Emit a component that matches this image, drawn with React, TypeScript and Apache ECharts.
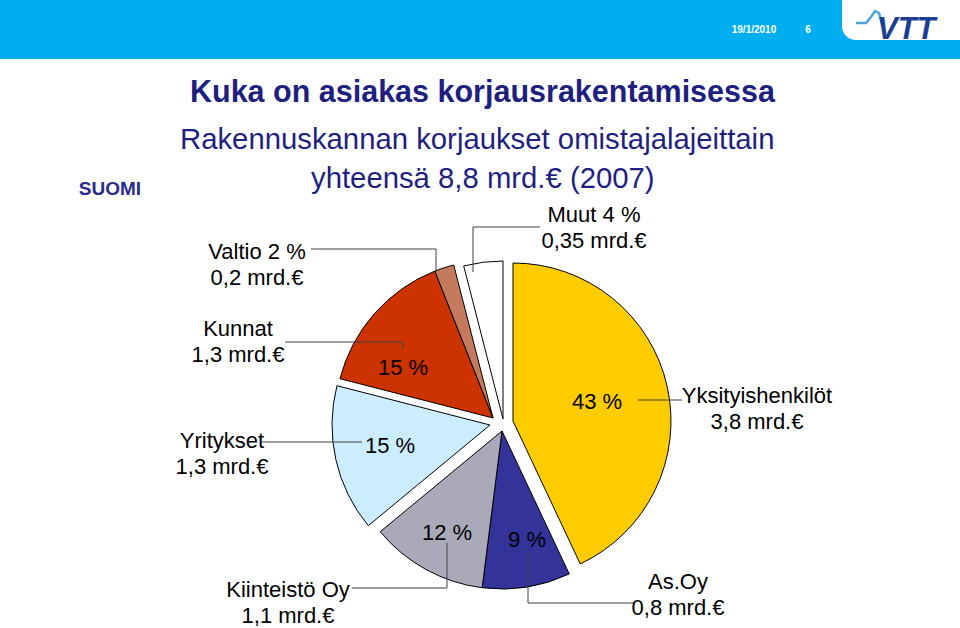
import React, { useEffect, useRef } from 'react';
import * as echarts from 'echarts';

// ---- Data ----
const categories = ['Yksityishenkilöt', 'As.Oy', 'Kiinteistö Oy', 'Yritykset', 'Kunnat', 'Valtio', 'Muut'];
const shares = [43, 9, 12, 15, 15, 2, 4];
const amounts = ['3,8', '0,8', '1,1', '1,3', '1,3', '0,2', '0,35'];
const shareInCallout = [false, false, false, false, false, true, true];

// ---- Styling / layout ----
const sliceColors = ['#FFCC00', '#333399', '#A9A9BA', '#CCECFF', '#CC3300', '#C47A5C', '#FFFFFF'];
const FONT = '"Liberation Sans", Arial, Helvetica, sans-serif';
const NAVY = '#1F1F80';

// exploded pie: slices sharing a group are drawn around the same (shifted) centre
const sliceGroup = [0, 1, 1, 2, 3, 3, 4];
const groupCenters = [[513, 421], [502, 431], [490, 425], [493, 418], [503, 419]];
const PIE_CENTER = [502, 420];
const PIE_RADIUS = 158;

const innerPos: (number[] | null)[] = [[597, 401], [527, 539], [447, 532], [390, 445], [403, 367], null, null];
const outerPos = [[757, 408], [678, 594], [288, 602], [222, 453], [238, 341], [257, 264], [594, 227]];
const leaderPts = [
  [[638, 400], [660, 400], [682, 400]],
  [[528, 552], [528, 603], [634, 603]],
  [[447, 543], [447, 588], [352, 588]],
  [[362, 442], [310, 442], [262, 442]],
  [[403, 349], [403, 342], [285, 342]],
  [[436, 272], [436, 249], [311, 249]],
  [[473, 272], [473, 227], [540, 227]],
];

export default function App() {
  const ref = useRef<HTMLDivElement>(null);

  useEffect(() => {
    if (!ref.current) return;
    const chart = echarts.init(ref.current, null, { renderer: 'svg' });

    const pieBase = {
      type: 'pie',
      radius: PIE_RADIUS,
      startAngle: 90,
      clockwise: true,
      avoidLabelOverlap: false,
      silent: true,
      emphasis: { disabled: true },
    };
    const ghost = { color: 'rgba(0,0,0,0)', borderWidth: 0 };
    const plainData = categories.map((name, i) => ({ name, value: shares[i] }));

    const sliceSeries = groupCenters.map((center, g) => ({
      ...pieBase,
      id: `slices-${g}`,
      center,
      label: { show: false },
      labelLine: { show: false },
      data: categories.map((name, i) => ({
        name,
        value: shares[i],
        itemStyle:
          sliceGroup[i] === g
            ? { color: sliceColors[i], borderColor: '#000000', borderWidth: 1 }
            : ghost,
      })),
      z: 2,
    }));

    chart.setOption({
      animation: false,
      backgroundColor: '#FFFFFF',
      graphic: [
        { type: 'rect', shape: { x: 0, y: 0, width: 960, height: 59 }, style: { fill: '#00AEEF' } },
        { type: 'rect', shape: { x: 842, y: 0, width: 118, height: 40, r: [0, 0, 0, 14] }, style: { fill: '#FFFFFF' } },
        {
          type: 'text',
          style: { text: '19/1/2010', x: 754, y: 29, align: 'center', verticalAlign: 'middle', font: `bold 10px ${FONT}`, fill: '#FFFFFF' },
        },
        {
          type: 'text',
          style: { text: '6', x: 808, y: 29, align: 'center', verticalAlign: 'middle', font: `bold 10px ${FONT}`, fill: '#FFFFFF' },
        },
        {
          type: 'polyline',
          shape: { points: [[856, 23], [866, 23], [871, 17], [875, 11], [879, 13], [882, 25]] },
          style: { stroke: '#4FA3D9', lineWidth: 2.5, fill: null },
        },
        {
          type: 'text',
          style: { text: 'VTT', x: 877, y: 28, align: 'left', verticalAlign: 'middle', font: `italic bold 31px ${FONT}`, fill: '#1C3F94' },
        },
        {
          type: 'text',
          style: { text: 'SUOMI', x: 110, y: 188, align: 'center', verticalAlign: 'middle', font: `bold 19px ${FONT}`, fill: '#2B2B8C' },
        },
        {
          type: 'text',
          style: { text: 'Kuka on asiakas korjausrakentamisessa', x: 190, y: 91, align: 'left', verticalAlign: 'middle', font: `bold 30.5px ${FONT}`, fill: NAVY },
        },
        {
          type: 'text',
          style: { text: 'Rakennuskannan korjaukset omistajalajeittain', x: 180, y: 138, align: 'left', verticalAlign: 'middle', font: `29.3px ${FONT}`, fill: NAVY },
        },
        {
          type: 'text',
          style: { text: 'yhteensä 8,8 mrd.€ (2007)', x: 311, y: 177, align: 'left', verticalAlign: 'middle', font: `29.3px ${FONT}`, fill: NAVY },
        },
      ],
      series: [
        ...sliceSeries,
        {
          ...pieBase,
          id: 'percents',
          center: PIE_CENTER,
          itemStyle: ghost,
          label: {
            show: true,
            position: 'inside',
            fontSize: 22,
            fontFamily: FONT,
            color: '#000000',
            formatter: (p: any) => (shareInCallout[p.dataIndex] ? '' : `${shares[p.dataIndex]} %`),
          },
          labelLine: { show: false },
          labelLayout: (p: any) => {
            const pos = innerPos[p.dataIndex];
            if (!pos) return {};
            return { x: pos[0], y: pos[1], align: 'center', verticalAlign: 'middle' };
          },
          data: plainData,
          z: 3,
        },
        {
          ...pieBase,
          id: 'callouts',
          center: PIE_CENTER,
          itemStyle: ghost,
          label: {
            show: true,
            position: 'outside',
            fontSize: 22,
            lineHeight: 26,
            fontFamily: FONT,
            color: '#000000',
            formatter: (p: any) => {
              const i = p.dataIndex;
              const head = shareInCallout[i] ? `${categories[i]} ${shares[i]} %` : categories[i];
              return `{c|${head}}\n{c|${amounts[i]} mrd.€}`;
            },
            rich: { c: { fontSize: 22, lineHeight: 26, fontFamily: FONT, color: '#000000', align: 'center' } },
          },
          labelLine: { show: true, lineStyle: { color: '#404040', width: 1 } },
          labelLayout: (p: any) => {
            const i = p.dataIndex;
            return {
              x: outerPos[i][0],
              y: outerPos[i][1],
              align: 'center',
              verticalAlign: 'middle',
              labelLinePoints: leaderPts[i],
            };
          },
          data: plainData,
          z: 4,
        },
      ],
    });

    return () => chart.dispose();
  }, []);

  return <div ref={ref} style={{ position: 'fixed', left: 0, top: 0, width: 960, height: 628 }} />;
}
